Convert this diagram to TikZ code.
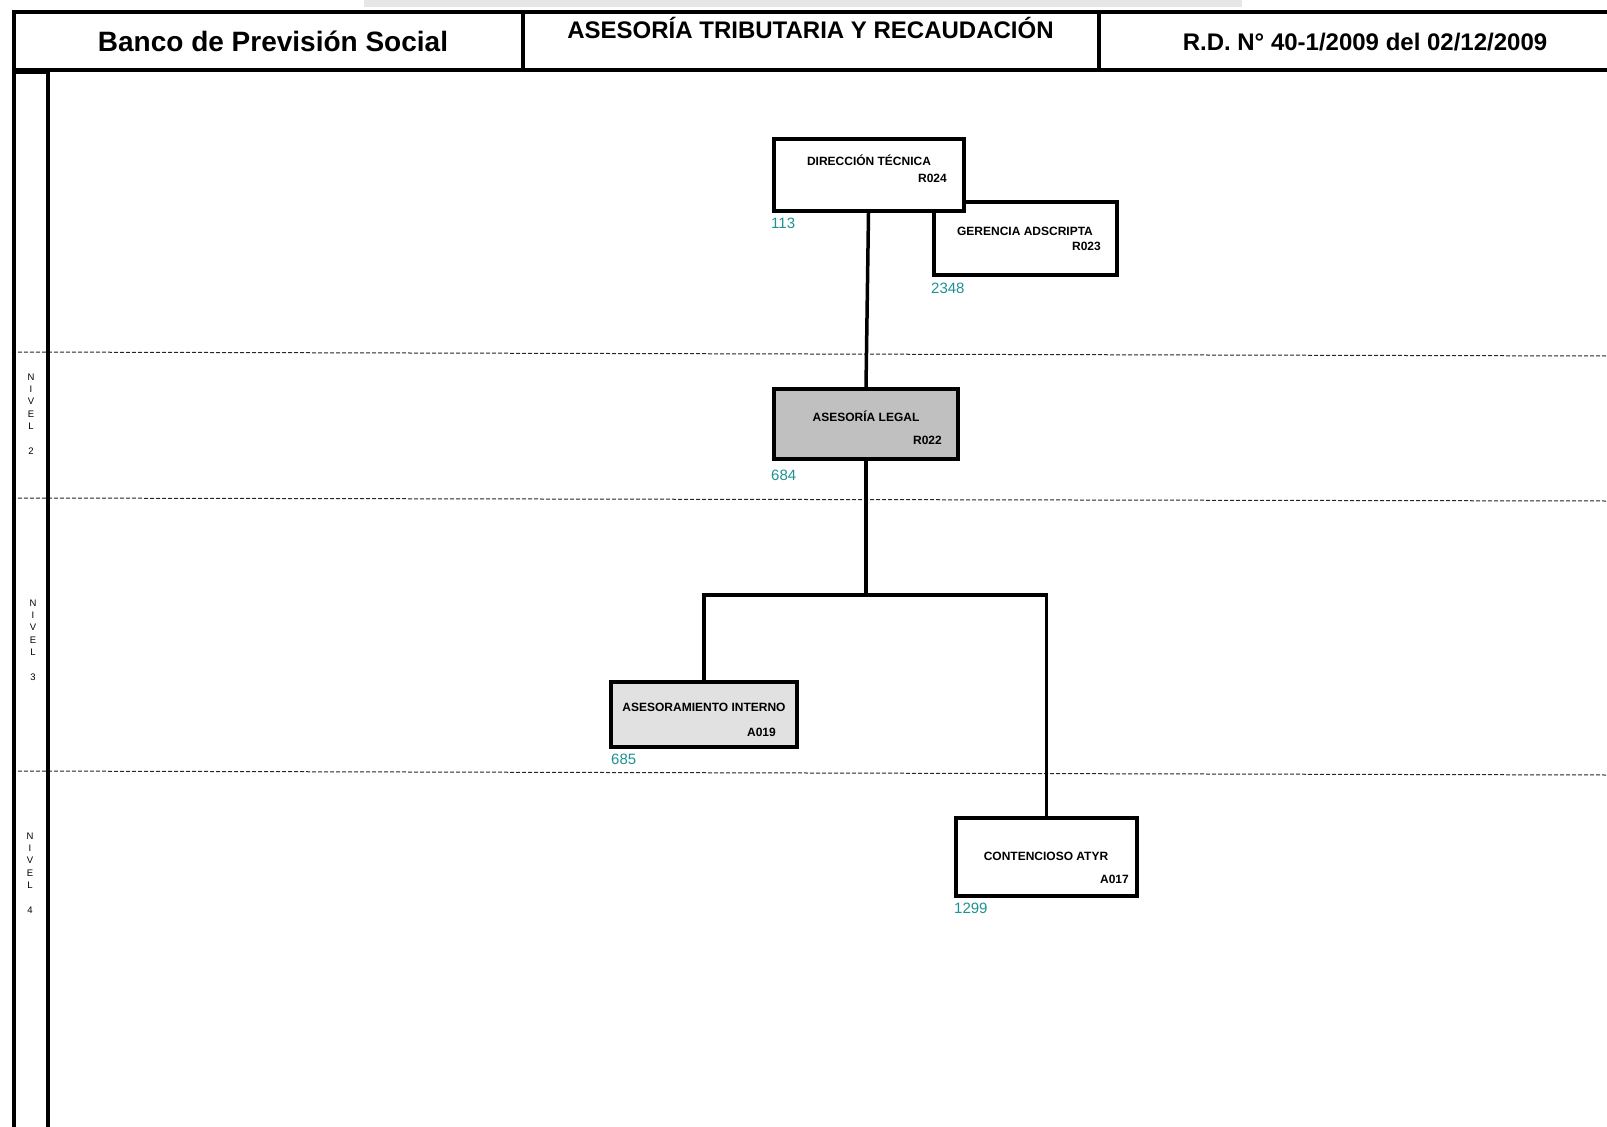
\documentclass[tikz,border=0pt]{standalone}
\usepackage{fontspec}
\setmainfont{Liberation Sans}
\definecolor{numteal}{RGB}{30,145,145}
\definecolor{legalgray}{RGB}{192,192,192}
\definecolor{asesgray}{RGB}{225,225,225}
\definecolor{stripgray}{RGB}{230,230,230}
\tikzset{
  unitbox/.style={draw=black, line width=4pt, fill=white, inner sep=0pt},
  unitname/.style={anchor=base, inner sep=0pt, font=\fontsize{12}{14}\selectfont\bfseries},
  unitcode/.style={anchor=base east, inner sep=0pt, font=\fontsize{12}{14}\selectfont\bfseries},
  unitnum/.style={anchor=base west, inner sep=0pt, text=numteal, font=\fontsize{15}{17}\selectfont},
  conn/.style={line width=3.5pt},
  frame/.style={line width=3.5pt},
  levelline/.style={line width=1pt, black!85, dash pattern=on 4pt off 2pt},
  nivel/.style={align=center, inner sep=0pt, font=\fontsize{9.5}{12.3}\selectfont}
}
\begin{document}
\begin{tikzpicture}[x=1pt, y=-1pt]
    \useasboundingbox (0,0) rectangle (1607,1127);
    \fill[stripgray] (364,0) rectangle (1242,7);

    % levels
    \draw[levelline] (12,352) -- (1607,356);
    \draw[levelline] (12,498) -- (1607,501);
    \draw[levelline] (12,771) -- (1607,775);

    % header and side column
    \draw[frame] (1607,12) -- (14,12) -- (14,1127);
    \draw[frame] (14,70) -- (1607,70);
    \draw[frame] (523,12) -- (523,70);
    \draw[frame] (1099,12) -- (1099,70);
    \draw[line width=4pt] (14,72) -- (48,72) -- (48,1127);
    \node[anchor=base, font=\fontsize{28}{30}\selectfont\bfseries] (bps) at (273,51) {Banco de Previsión Social};
    \node[anchor=base, font=\fontsize{24}{26}\selectfont\bfseries] (atyr) at (810.5,38) {ASESORÍA TRIBUTARIA Y RECAUDACIÓN};
    \node[anchor=base, font=\fontsize{24}{26}\selectfont\bfseries] (rd) at (1365,50) {R.D. N° 40-1/2009 del 02/12/2009};

    \node[nivel] (niv2) at (31,414) {N\\I\\V\\E\\L\\[12.3pt]2};
    \node[nivel] (niv3) at (33,640) {N\\I\\V\\E\\L\\[12.3pt]3};
    \node[nivel] (niv4) at (30,873) {N\\I\\V\\E\\L\\[12.3pt]4};

    % units
    \node[unitbox, minimum width=183pt, minimum height=73pt] (ger) at (1025.5,238.5) {};
    \node[unitbox, minimum width=190pt, minimum height=72pt] (dir) at (868.5,175) {};
    \node[unitbox, fill=legalgray, minimum width=184pt, minimum height=70pt] (legal) at (866,424) {};
    \node[unitbox, fill=asesgray, minimum width=186pt, minimum height=65pt] (ases) at (704,714.5) {};
    \node[unitbox, minimum width=181pt, minimum height=78pt] (cont) at (1046.5,857) {};

    \node[unitname] (dirT) at (869,165.3) {DIRECCIÓN TÉCNICA};
    \node[unitcode] (dirC) at (947,182.3) {R024};
    \node[unitnum] (dirN) at (771,228.4) {113};

    \node[unitname] (gerT) at (1025,235.3) {GERENCIA ADSCRIPTA};
    \node[unitcode] (gerC) at (1101,250.3) {R023};
    \node[unitnum] (gerN) at (931,293.4) {2348};

    \node[unitname] (legalT) at (866,421.3) {ASESORÍA LEGAL};
    \node[unitcode] (legalC) at (942,444.3) {R022};
    \node[unitnum] (legalN) at (771,480.4) {684};

    \node[unitname] (asesT) at (704,711.3) {ASESORAMIENTO INTERNO};
    \node[unitcode] (asesC) at (776,736.3) {A019};
    \node[unitnum] (asesN) at (611,764.4) {685};

    \node[unitname] (contT) at (1046,860.3) {CONTENCIOSO ATYR};
    \node[unitcode] (contC) at (1129,883.3) {A017};
    \node[unitnum] (contN) at (954,913.4) {1299};

    % connectors
    \coordinate (split) at (866,595);
    \draw[conn] (dir.south) -- (legal.north);
    \draw[conn] (legal.south) -- (split);
    \draw[conn] (ases.north) |- (split) -| (cont.north);
\end{tikzpicture}
\end{document}
